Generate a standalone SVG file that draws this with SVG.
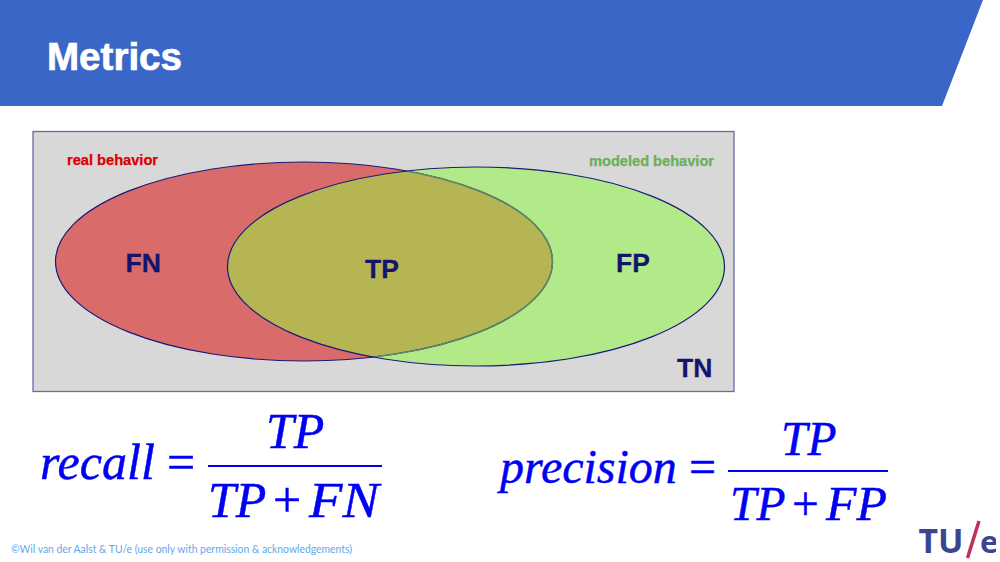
<svg xmlns="http://www.w3.org/2000/svg" width="1000" height="562" viewBox="0 0 1000 562">
<style>
.sans{font-family:"Liberation Sans",Arial,sans-serif;font-weight:700}
.region{font-size:26.500px;fill:#14146e;stroke:#14146e;stroke-width:.3px}
.caption{font-size:14px;stroke-width:.25px}
.math{font-family:"Liberation Serif","Times New Roman",serif;fill:#0000f5;stroke:#0000f5;stroke-width:.45px}
.it{font-style:italic}
.set{stroke:#1a1a78;stroke-width:1.2;fill:none}
.rule{stroke:#0000f5;stroke-width:2;fill:none}
</style>
<defs>
<clipPath id="inGreen"><ellipse cx="476" cy="266.500" rx="248.500" ry="99.500"/></clipPath>
</defs>
<rect width="1000" height="562" fill="#ffffff"/>
<g id="banner">
<polygon points="0,0 983,0 942,106 0,106" fill="#3a66c8"/>
<text x="47" y="70" class="sans" font-size="38" fill="#ffffff" stroke="#ffffff" stroke-width=".7" textLength="135" lengthAdjust="spacingAndGlyphs">Metrics</text>
</g>
<g id="universe">
<rect x="33" y="131.500" width="701" height="260" fill="#d8d8d8" stroke="#6a6aa8" stroke-width="1.300"/>
</g>
<g id="real">
<ellipse cx="304" cy="261.500" rx="248.500" ry="99.500" fill="#da6b6b"/>
</g>
<g id="modeled">
<ellipse cx="476" cy="266.500" rx="248.500" ry="99.500" fill="#b2ea8a"/>
</g>
<g id="overlap">
<ellipse cx="304" cy="261.500" rx="248.500" ry="99.500" fill="#b5b553" clip-path="url(#inGreen)"/>
</g>
<g id="outlines">
<ellipse cx="304" cy="261.500" rx="248.500" ry="99.500" class="set"/>
<ellipse cx="304" cy="261.500" rx="248.500" ry="99.500" fill="none" stroke="#5f8a68" stroke-width="1.500" clip-path="url(#inGreen)"/>
<ellipse cx="476" cy="266.500" rx="248.500" ry="99.500" class="set"/>
</g>
<g id="labels">
<text x="67" y="165" class="sans caption" fill="#d80000" stroke="#d80000" textLength="91" lengthAdjust="spacingAndGlyphs">real behavior</text>
<text x="589" y="166" class="sans caption" fill="#6ab058" stroke="#6ab058" textLength="125" lengthAdjust="spacingAndGlyphs">modeled behavior</text>
<text x="125.500" y="271.500" class="sans region">FN</text>
<text x="365" y="277.500" class="sans region">TP</text>
<text x="616" y="271.500" class="sans region">FP</text>
<text x="677" y="376.500" class="sans region">TN</text>
</g>
<g id="recall">
<text x="40" y="479" class="math it" font-size="50">recall</text>
<text x="167" y="479" class="math" font-size="50">=</text>
<text x="266" y="448" class="math it" font-size="50">TP</text>
<line x1="208" y1="466" x2="382" y2="466" class="rule"/>
<text x="208" y="517" class="math it" font-size="50">TP</text>
<text x="273" y="517" class="math" font-size="50">+</text>
<text x="309" y="517" class="math it" font-size="50" textLength="70" lengthAdjust="spacingAndGlyphs">FN</text>
</g>
<g id="precision">
<text x="500" y="483" class="math it" font-size="48">precision</text>
<text x="689" y="483" class="math" font-size="48">=</text>
<text x="781" y="455" class="math it" font-size="47.500">TP</text>
<line x1="728" y1="471" x2="888" y2="471" class="rule"/>
<text x="730" y="520" class="math it" font-size="47.500">TP</text>
<text x="792" y="520" class="math" font-size="47.500">+</text>
<text x="826" y="520" class="math it" font-size="47.500" textLength="61" lengthAdjust="spacingAndGlyphs">FP</text>
</g>
<g id="footer">
<text x="11" y="553" font-family="Lato,'Noto Sans',sans-serif" font-size="10.500" fill="#5fa8ec" textLength="341" lengthAdjust="spacingAndGlyphs">©Wil van der Aalst &amp; TU/e (use only with permission &amp; acknowledgements)</text>
</g>
<g id="logo">
<text x="918.500" y="553" font-family="'Open Sans','Liberation Sans',sans-serif" font-weight="700" font-size="34" fill="#3a4490" textLength="45" lengthAdjust="spacingAndGlyphs">TU</text>
<line x1="979" y1="521" x2="967.500" y2="558" stroke="#c0305f" stroke-width="3.500"/>
<text x="980" y="553" font-family="'Open Sans','Liberation Sans',sans-serif" font-weight="700" font-size="31" fill="#3a4490">e</text>
<rect x="996" y="520" width="4" height="42" fill="#ffffff"/>
</g>
</svg>
